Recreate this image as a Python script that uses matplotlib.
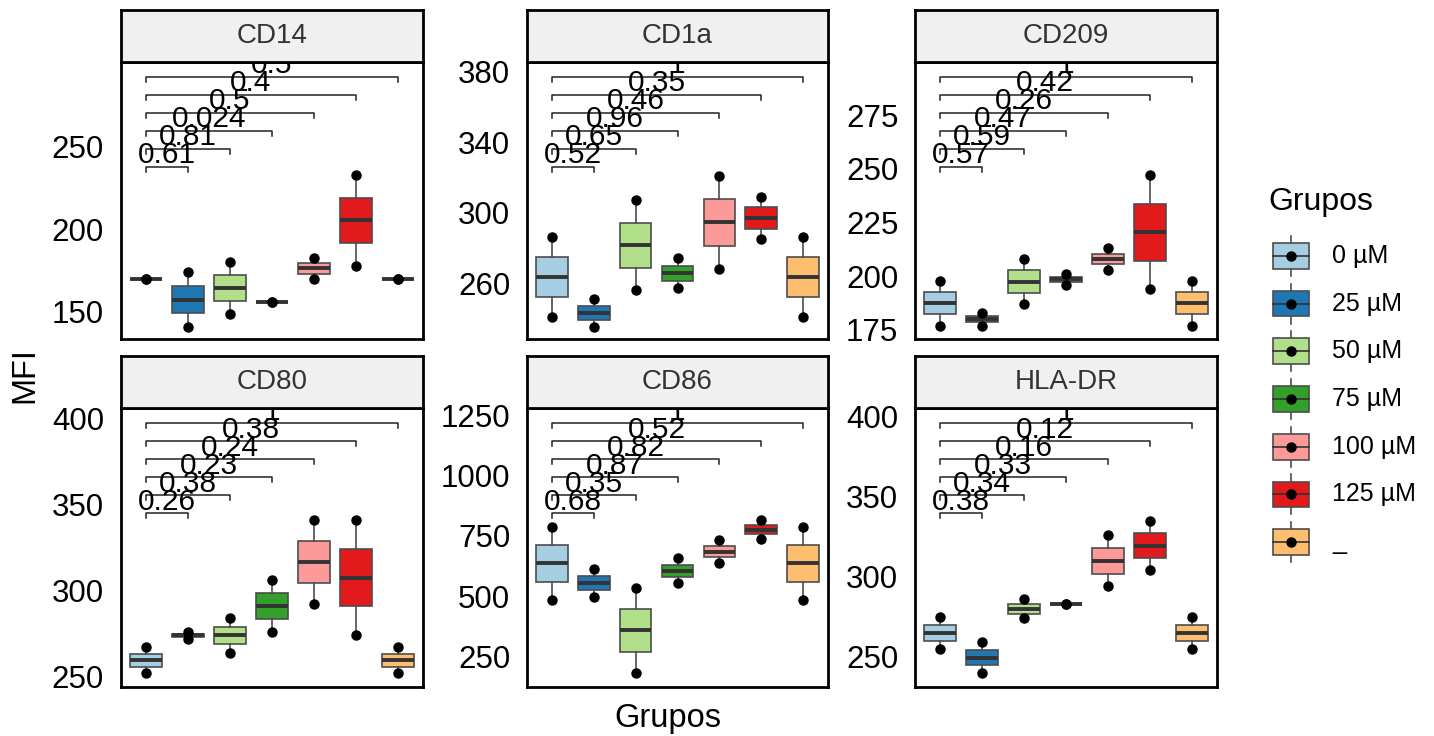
import numpy as np
import matplotlib.pyplot as plt
from matplotlib.patches import Rectangle
from matplotlib.transforms import blended_transform_factory

plt.rcParams['font.family'] = ['Liberation Sans', 'DejaVu Sans']

grupos = ['0 µM', '25 µM', '50 µM', '75 µM', '100 µM', '125 µM', '_']
cores = ['#A6CEE3', '#1F78B4', '#B2DF8A', '#33A02C', '#FB9A99', '#E31A1C', '#FDBF6F']

marcadores = ['CD14', 'CD1a', 'CD209', 'CD80', 'CD86', 'HLA-DR']

# MFI, dois valores por grupo
cd14 = [[170, 170], [141, 174], [149, 180], [156, 156], [170, 183], [178, 233], [170, 170]]
cd1a = [[241, 286], [235, 251], [256, 307], [257, 274], [268, 321], [285, 309], [241, 286]]
cd209 = [[177, 198], [177, 183], [187, 208], [196, 201], [203, 213], [194, 247], [177, 198]]
cd80 = [[252, 267], [272, 276], [264, 284], [276, 306], [292, 341], [274, 341], [252, 267]]
cd86 = [[484, 788], [498, 611], [183, 533], [553, 657], [636, 733], [737, 815], [484, 788]]
hladr = [[255, 275], [240, 259], [274, 286], [283, 283], [294, 326], [304, 335], [255, 275]]

# p-valores (0 µM vs cada grupo)
p_cd14 = ['0.61', '0.81', '0.024', '0.5', '0.4', '0.5']
p_cd1a = ['0.52', '0.65', '0.96', '0.46', '0.35', '1']
p_cd209 = ['0.57', '0.59', '0.47', '0.26', '0.42', '1']
p_cd80 = ['0.26', '0.38', '0.23', '0.24', '0.38', '1']
p_cd86 = ['0.68', '0.35', '0.87', '0.82', '0.52', '1']
p_hladr = ['0.38', '0.34', '0.33', '0.16', '0.12', '1']

dados = [cd14, cd1a, cd209, cd80, cd86, hladr]
pvals = [p_cd14, p_cd1a, p_cd209, p_cd80, p_cd86, p_hladr]
ylims = [(133.6, 301.5), (228.3, 385.5), (170.8, 299.7), (244, 406), (124, 1279), (231.2, 405.4)]
yticks = [[150, 200, 250], [260, 300, 340, 380], [175, 200, 225, 250, 275],
          [250, 300, 350, 400], [250, 500, 750, 1000, 1250], [250, 300, 350, 400]]

W, H = 1434, 736
fig = plt.figure(figsize=(W / 100, H / 100), dpi=100)

cols_px = [(120.7, 423), (527, 828), (915, 1217)]
rows_px = [(10, 62, 339), (356, 408, 687)]  # strip top, panel top, panel bottom

pos = np.arange(1, 8)
for k, nome in enumerate(marcadores):
    r, c = divmod(k, 3)
    x0, x1 = cols_px[c]
    st, pt, pb = rows_px[r]
    ax = fig.add_axes([x0 / W, 1 - pb / H, (x1 - x0) / W, (pb - pt) / H])
    sax = fig.add_axes([x0 / W, 1 - pt / H, (x1 - x0) / W, (pt - st) / H])

    bp = ax.boxplot(dados[k], positions=pos, widths=0.75, patch_artist=True,
                    whis=(0, 100), showfliers=False, showcaps=False,
                    medianprops=dict(color='#333333', linewidth=2.8),
                    whiskerprops=dict(color='#4d4d4d', linewidth=1.2),
                    boxprops=dict(edgecolor='#4d4d4d', linewidth=1.2))
    for patch, cor in zip(bp['boxes'], cores):
        patch.set_facecolor(cor)
    for i, v in enumerate(dados[k]):
        ax.plot([pos[i]] * len(v), v, 'o', color='black', ms=6.5, zorder=4)

    # colchetes de comparação
    tr = blended_transform_factory(ax.transData, ax.transAxes)
    for j, p in enumerate(pvals[k]):
        yb = 0.622 + j * 0.0649
        xa, xb = 1, j + 2
        ax.plot([xa, xa, xb, xb], [yb - 0.018, yb, yb, yb - 0.018], color='#222222',
                lw=1.1, transform=tr, clip_on=True)
        ax.text((xa + xb) / 2, yb + 0.012, p, transform=tr, ha='center', va='baseline',
                fontsize=21.5, color='black', clip_on=True)

    ax.set_xlim(0.4, 7.6)
    ax.set_ylim(*ylims[k])
    ax.set_yticks(yticks[k])
    ax.set_xticks([])
    ax.tick_params(axis='y', length=0, pad=12, labelsize=22.5, labelcolor='black')
    for s in ax.spines.values():
        s.set_linewidth(2)
        s.set_color('black')

    sax.set_facecolor('#F0F0F0')
    sax.set_xticks([])
    sax.set_yticks([])
    for s in sax.spines.values():
        s.set_linewidth(2)
        s.set_color('black')
    sax.text(0.5, 0.5, nome, ha='center', va='center', fontsize=20, color='#333333',
             transform=sax.transAxes)

fig.text(25 / W, 1 - 375 / H, 'MFI', rotation=90, ha='center', va='center', fontsize=23.5)
fig.text(668 / W, 1 - 718 / H, 'Grupos', ha='center', va='center', fontsize=23.5)

# legenda
lax = fig.add_axes([1262 / W, 1 - 566 / H, 172 / W, 334 / H])
lax.set_xlim(0, 172)
lax.set_ylim(6.5, -0.5)
lax.axis('off')
for i, (g, cor) in enumerate(zip(grupos, cores)):
    xc = 29
    lax.plot([xc, xc], [i - 0.42, i + 0.42], color='#4d4d4d', lw=1.2)
    lax.add_patch(Rectangle((xc - 18, i - 0.27), 36, 0.54, facecolor=cor,
                            edgecolor='#4d4d4d', lw=1.2, zorder=2))
    lax.plot([xc - 18, xc + 18], [i, i], color='#333333', lw=1.2, zorder=3)
    lax.plot([xc], [i], 'o', color='black', ms=6.5, zorder=4)
    lax.text(70, i, g, va='center', ha='left', fontsize=18)
fig.text(1268 / W, 1 - 202 / H, 'Grupos', ha='left', va='center', fontsize=23)

fig.savefig('out.png', dpi=100)
